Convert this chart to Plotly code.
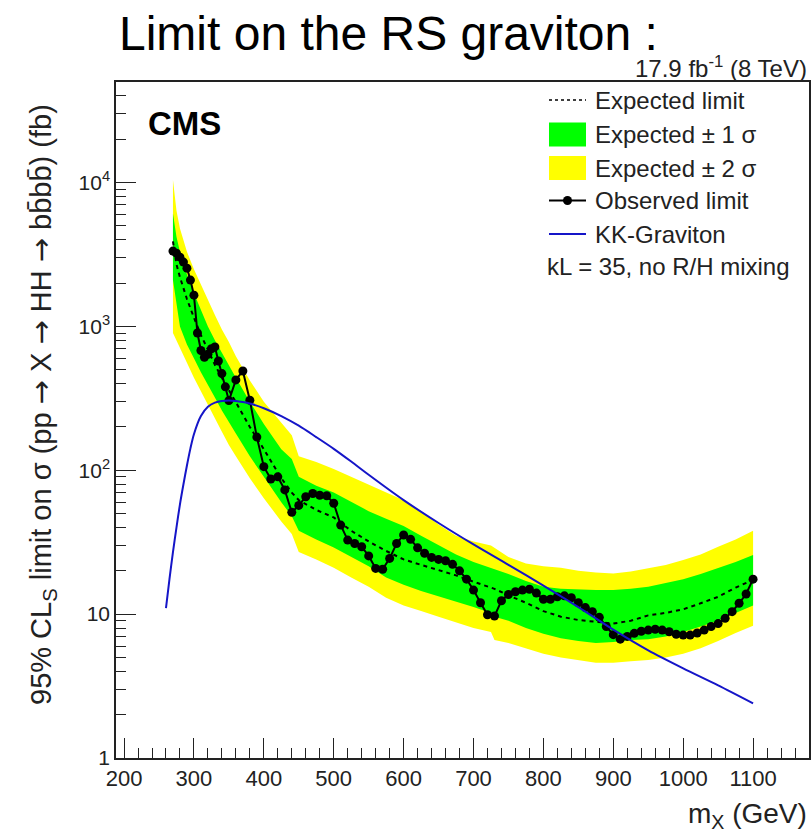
import math
import plotly.graph_objects as go

# ---------------- data ----------------
# observed 95% CL limit (fb)
obs_mass = [270, 275, 280, 285, 290, 295, 300, 305, 310, 315, 320, 325, 330, 335, 340, 345, 350,
            360, 370, 380, 390, 400, 410, 420, 430, 440, 450, 460, 470, 480, 490,
            500, 510, 520, 530, 540, 550, 560, 570, 580, 590,
            600, 610, 620, 630, 640, 650, 660, 670, 680, 690,
            700, 710, 720, 730, 740, 750, 760, 770, 780, 790,
            800, 810, 820, 830, 840, 850, 860, 870, 880, 890,
            900, 910, 920, 930, 940, 950, 960, 970, 980, 990,
            1000, 1010, 1020, 1030, 1040, 1050, 1060, 1070, 1080, 1090, 1100]
obs_limit = [3340, 3230, 3030, 2800, 2540, 2100, 1650, 900, 680, 610, 640, 700, 720, 575, 470, 380, 305,
             425, 490, 307, 170, 106, 87, 90, 73, 51, 57, 65.5, 69, 67, 66.5,
             59, 41.6, 32.7, 31, 29.4, 25.4, 20.8, 20.5, 24.4, 31,
             35.5, 33.1, 28.9, 26.5, 24.8, 24.0, 23.5, 22.2, 20.0, 17.5,
             14.7, 12.0, 9.9, 9.7, 12.4, 13.7, 14.3, 14.7, 14.9, 14.0,
             12.7, 12.7, 13.2, 13.4, 13.0, 12.0, 11.1, 10.4, 9.5, 8.2,
             7.2, 6.7, 7.0, 7.35, 7.6, 7.75, 7.85, 7.75, 7.55, 7.25,
             7.15, 7.15, 7.4, 7.75, 8.2, 8.6, 9.35, 10.4, 11.9, 13.8, 17.5]

# expected limit and its uncertainty bands (fb)
exp_mass = [270, 275, 280, 290, 300, 310, 320, 330, 340, 350, 360, 380, 400, 425, 440, 450,
            475, 500, 525, 550, 575, 600, 625, 650, 675, 700, 725, 730, 750, 775,
            800, 825, 850, 875, 900, 925, 950, 975, 1000, 1025, 1050, 1075, 1100]
exp_limit = [3900, 2700, 2200, 1550, 1150, 870, 690, 540, 440, 360, 300, 200, 140, 88, 70, 62,
             53, 47, 38, 32, 27.5, 24, 22, 20.3, 18.6, 16.8, 15.2, 15.0, 13.5, 12,
             10.5, 9.6, 9.1, 8.8, 8.6, 9.0, 9.8, 10.2, 10.8, 11.9, 13.2, 15.3, 17.3]
exp_plus2 = [10400, 6400, 4800, 3300, 2500, 1950, 1500, 1200, 950, 780, 620, 420, 300, 215, 175, 125,
             114, 102, 90, 80, 70, 62, 52, 42, 35, 32, 30, 29, 25, 22.5,
             21.5, 21, 20, 19.5, 19.2, 19.8, 20.8, 22, 23.8, 26, 29.4, 33, 38]
exp_plus1 = [6100, 4200, 3300, 2300, 1700, 1300, 1000, 800, 650, 530, 440, 300, 210, 140, 120, 90,
             78, 70, 60, 52, 46, 41, 35, 30, 26, 23, 21, 20.5, 19, 17,
             15.5, 15, 14.8, 14.7, 14.7, 15, 15.5, 16.5, 17.5, 19, 21, 23, 25.8]
exp_minus1 = [2100, 1400, 1000, 750, 600, 480, 390, 320, 260, 215, 180, 125, 90, 60, 48, 38,
              33, 29, 25, 21.5, 18, 16, 14.5, 13.3, 12.2, 11.2, 10.2, 9.6, 9, 8,
              7.3, 6.8, 6.5, 6.3, 6.4, 6.6, 6.7, 7.0, 7.5, 8.2, 9.0, 10.2, 11.5]
exp_minus2 = [900, 800, 720, 560, 440, 350, 280, 230, 185, 150, 125, 88, 64, 44, 36, 27,
              24, 21, 18, 15.5, 13, 11.5, 10.5, 9.6, 8.8, 8.0, 7.5, 6.6, 6.3, 5.8,
              5.3, 5.0, 4.8, 4.6, 4.6, 4.7, 4.8, 5.0, 5.3, 5.8, 6.5, 7.4, 8.3]

# KK graviton cross section, kL = 35 (fb)
kk_mass = [260, 265, 270, 275, 280, 285, 290, 295, 300, 310, 320, 330, 340, 350, 360, 370, 380,
           400, 425, 450, 475, 500, 525, 550, 600, 650, 700, 750, 800, 850, 900, 950, 1000, 1050, 1100]
kk_xsec = [11, 17.5, 27, 40, 58, 80, 108, 142, 178, 238, 276, 295, 303, 305, 303, 298, 291,
           270, 238, 204, 170, 141, 115, 93, 62, 43, 30.5, 22, 15.8, 11.2, 7.8, 5.6, 4.2, 3.2, 2.4]

x_major = [200, 300, 400, 500, 600, 700, 800, 900, 1000, 1100]
y_major = [1, 10, 100, 1000, 10000]
y_major_text = ["1", "10", "10<sup>2</sup>", "10<sup>3</sup>", "10<sup>4</sup>"]

# ---------------- geometry ----------------
W, H = 812, 832
L, R, T, B = 116, 3, 82, 74
PW, PH = W - L - R, H - T - B


def px(xp):
    return (xp - L) / PW


def py(yp):
    return (H - B - yp) / PH


FONT = "Liberation Sans, Arial, Helvetica, sans-serif"
GREEN = "#00ff00"
YELLOW = "#ffff00"
BLUE = "#1515c8"

fig = go.Figure()

# +-2 sigma band
fig.add_trace(go.Scatter(
    x=exp_mass + exp_mass[::-1], y=exp_plus2 + exp_minus2[::-1],
    fill="toself", fillcolor=YELLOW, line=dict(width=0, color=YELLOW),
    mode="lines", hoverinfo="skip", showlegend=False))
# +-1 sigma band
fig.add_trace(go.Scatter(
    x=exp_mass + exp_mass[::-1], y=exp_plus1 + exp_minus1[::-1],
    fill="toself", fillcolor=GREEN, line=dict(width=0, color=GREEN),
    mode="lines", hoverinfo="skip", showlegend=False))
# expected limit
fig.add_trace(go.Scatter(
    x=exp_mass, y=exp_limit, mode="lines",
    line=dict(color="black", width=2, dash="4px,4px"), showlegend=False))
# observed limit
fig.add_trace(go.Scatter(
    x=obs_mass, y=obs_limit, mode="lines+markers",
    line=dict(color="black", width=2),
    marker=dict(color="black", size=9), showlegend=False))
# KK graviton
fig.add_trace(go.Scatter(
    x=kk_mass, y=kk_xsec, mode="lines", line=dict(color=BLUE, width=2, shape="spline", smoothing=0.8),
    showlegend=False))

x_minor = [m for m in range(200, 1181, 20) if m % 100 != 0]
y_minor = [k * 10 ** e for e in range(0, 5) for k in range(2, 10) if k * 10 ** e <= 50000]

fig.update_xaxes(
    range=[188.5, 1180], showline=True, mirror=True, linecolor="#222", linewidth=1.5,
    showgrid=False, zeroline=False, ticks="inside", ticklen=20, tickwidth=1.2, tickcolor="#222",
    tickvals=x_major, ticktext=[str(v) for v in x_major],
    tickfont=dict(family=FONT, size=22, color="#222"),
    minor=dict(tickvals=x_minor, ticks="inside", ticklen=10, tickwidth=1.2, tickcolor="#222", showgrid=False),
)
fig.update_yaxes(
    type="log", range=[0, math.log10(5e4)], showline=True, mirror=True, linecolor="#222", linewidth=1.5,
    showgrid=False, zeroline=False, ticks="inside", ticklen=20, tickwidth=1.2, tickcolor="#222",
    tickvals=y_major, ticktext=y_major_text,
    tickfont=dict(family=FONT, size=21, color="#222"),
    minor=dict(tickvals=y_minor, ticks="inside", ticklen=10, tickwidth=1.2, tickcolor="#222", showgrid=False),
)

ann = []
shapes = []

# headline and luminosity label
ann.append(dict(text="Limit on the RS graviton :", x=px(117), y=py(33), xref="paper", yref="paper",
                xanchor="left", yanchor="middle", showarrow=False,
                font=dict(family=FONT, size=48, color="black")))
ann.append(dict(text="17.9 fb<sup>-1</sup> (8 TeV)", x=px(809), y=py(67), xref="paper", yref="paper",
                xanchor="right", yanchor="middle", showarrow=False,
                font=dict(family=FONT, size=24, color="#222")))
ann.append(dict(text="<b>CMS</b>", x=px(146), y=py(123), xref="paper", yref="paper",
                xanchor="left", yanchor="middle", showarrow=False,
                font=dict(family=FONT, size=33, color="black")))

# axis titles
ann.append(dict(text="m<sub>X</sub> (GeV)", x=px(809), y=py(815), xref="paper", yref="paper",
                xanchor="right", yanchor="middle", showarrow=False,
                font=dict(family=FONT, size=28, color="#222")))
ARROW = '<span style="font-family:DejaVu Sans">→</span>'
ytitle = ("95% CL<sub>S</sub> limit on σ (pp " + ARROW + " X " + ARROW + " HH " + ARROW
          + " bb\u0304bb\u0304) (fb)")
ann.append(dict(text=ytitle,
                x=px(42), y=py(405), xref="paper", yref="paper", textangle=-90,
                xanchor="center", yanchor="middle", showarrow=False,
                font=dict(family=FONT, size=29, color="#222")))

# legend
leg_rows = [100, 134.5, 168, 200.5, 234, 266.5]
leg_text = ["Expected limit", "Expected ± 1 σ", "Expected ± 2 σ", "Observed limit", "KK-Graviton"]
for yy, tt in zip(leg_rows[:5], leg_text):
    ann.append(dict(text=tt, x=px(593), y=py(yy), xref="paper", yref="paper",
                    xanchor="left", yanchor="middle", showarrow=False,
                    font=dict(family=FONT, size=24, color="#222")))
ann.append(dict(text="kL = 35, no R/H mixing", x=px(545), y=py(leg_rows[5]), xref="paper", yref="paper",
                xanchor="left", yanchor="middle", showarrow=False,
                font=dict(family=FONT, size=24, color="#222")))

sx0, sx1 = px(549), px(586)
shapes.append(dict(type="line", xref="paper", yref="paper", x0=sx0, x1=sx1, y0=py(leg_rows[0]), y1=py(leg_rows[0]),
                   line=dict(color="black", width=1.5, dash="3px,3px")))
shapes.append(dict(type="rect", xref="paper", yref="paper", x0=sx0, x1=sx1, y0=py(leg_rows[1] - 12), y1=py(leg_rows[1] + 12),
                   fillcolor=GREEN, line=dict(width=0)))
shapes.append(dict(type="rect", xref="paper", yref="paper", x0=sx0, x1=sx1, y0=py(leg_rows[2] - 12), y1=py(leg_rows[2] + 12),
                   fillcolor=YELLOW, line=dict(width=0)))
shapes.append(dict(type="line", xref="paper", yref="paper", x0=sx0, x1=sx1, y0=py(leg_rows[3]), y1=py(leg_rows[3]),
                   line=dict(color="black", width=2)))
shapes.append(dict(type="circle", xref="paper", yref="paper", xsizemode="pixel", ysizemode="pixel",
                   xanchor=px(567.5), yanchor=py(leg_rows[3]), x0=-4.5, x1=4.5, y0=-4.5, y1=4.5,
                   fillcolor="black", line=dict(width=0)))
shapes.append(dict(type="line", xref="paper", yref="paper", x0=sx0, x1=sx1, y0=py(leg_rows[4]), y1=py(leg_rows[4]),
                   line=dict(color=BLUE, width=2)))

fig.update_layout(
    width=W, height=H, margin=dict(l=L, r=R, t=T, b=B, autoexpand=False),
    paper_bgcolor="white", plot_bgcolor="white",
    showlegend=False, annotations=ann, shapes=shapes,
    font=dict(family=FONT),
)

fig.write_html("out.html")
